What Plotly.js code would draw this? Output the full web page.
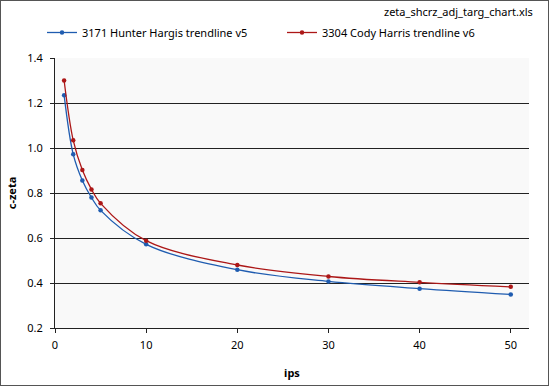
<!DOCTYPE html>
<html><head><meta charset="utf-8">
<script src="https://cdn.plot.ly/plotly-3.0.1.min.js"></script>
<style>html,body{margin:0;padding:0;background:#fff}#c{width:549px;height:386px;outline:1px solid #555;outline-offset:-1px}</style>
</head><body><div id="c"></div>
<script>
const ipsValues = [1, 2, 3, 4, 5, 10, 20, 30, 40, 50];
const hunterZeta = [1.235, 0.972, 0.856, 0.780, 0.723, 0.572, 0.459, 0.407, 0.375, 0.349];
const codyZeta = [1.300, 1.034, 0.902, 0.816, 0.754, 0.588, 0.480, 0.429, 0.403, 0.383];
const seriesNames = ["3171 Hunter Hargis trendline v5", "3304 Cody Harris trendline v6"];
const xTicks = [0, 10, 20, 30, 40, 50];
const yTicks = [0.2, 0.4, 0.6, 0.8, 1.0, 1.2, 1.4];
const fileLabel = "zeta_shcrz_adj_targ_chart.xls";

const font = {family: "Noto Sans, sans-serif", size: 11, color: "#000"};
const blue = "#1f5cb0", red = "#ac1717";
const traces = [
  {x: ipsValues, y: hunterZeta, name: seriesNames[0], legend: "legend", mode: "lines+markers", line: {shape: "spline", smoothing: 1, color: blue, width: 1.3}, marker: {size: 4.5, color: blue}},
  {x: ipsValues, y: codyZeta, name: seriesNames[1], legend: "legend2", mode: "lines+markers", line: {shape: "spline", smoothing: 1, color: red, width: 1.3}, marker: {size: 4.5, color: red}}
];
const legBase = {orientation: "h", xref: "container", yref: "container", y: 1 - 18/386, xanchor: "left", yanchor: "top", font: font, bgcolor: "rgba(0,0,0,0)"};
const layout = {
  width: 549, height: 386,
  margin: {l: 55, r: 20, t: 58, b: 58},
  paper_bgcolor: "rgba(0,0,0,0)", plot_bgcolor: "#f9f9f9",
  font: font,
  showlegend: true,
  legend: Object.assign({}, legBase, {x: 42/549}),
  legend2: Object.assign({}, legBase, {x: 282/549}),
  xaxis: {range: [0, 52], tickvals: xTicks, ticktext: xTicks.map(String), showgrid: false, zeroline: false, showline: true, linecolor: "#222", linewidth: 1, ticks: "outside", ticklen: 4, tickcolor: "#222", ticklabelstandoff: 3, title: {text: "<b>ips</b>", font: font, standoff: 18}},
  yaxis: {range: [0.2, 1.4], tickvals: yTicks, ticktext: yTicks.map(v => v.toFixed(1)), showgrid: true, gridcolor: "#222", gridwidth: 1, zeroline: false, showline: true, linecolor: "#222", linewidth: 1, ticks: "outside", ticklen: 4, tickcolor: "#222", ticklabelstandoff: 5, title: {text: "<b>c-zeta</b>", font: font, standoff: 8}},
  annotations: [{text: fileLabel, xref: "paper", yref: "paper", x: (535 - 55) / 474, y: (328 - 11) / 270, xanchor: "right", yanchor: "middle", showarrow: false, font: font}]
};
Plotly.newPlot("c", traces, layout, {displayModeBar: false, staticPlot: true});
</script></body></html>
